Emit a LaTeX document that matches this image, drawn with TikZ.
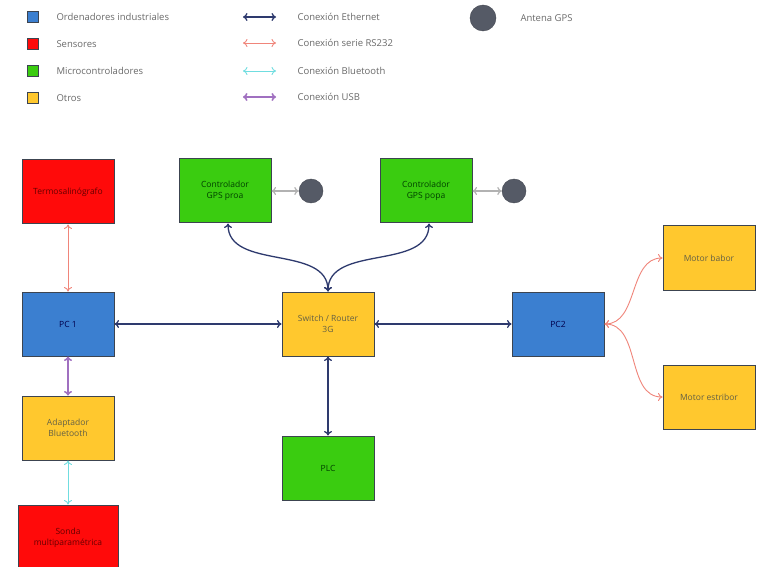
\documentclass[tikz,border=0pt]{standalone}
\usepackage{fontspec}
\setmainfont{Open Sans}
\usetikzlibrary{arrows.meta}
\definecolor{cblue}{HTML}{3B7FD0}
\definecolor{cred}{HTML}{FF0A0A}
\definecolor{cgreen}{HTML}{3ACC10}
\definecolor{cyellow}{HTML}{FFC82E}
\definecolor{cborder}{HTML}{3C4450}
\definecolor{ceth}{HTML}{2E3A6E}
\definecolor{crs}{HTML}{F0857A}
\definecolor{cbt}{HTML}{70DDE0}
\definecolor{cusb}{HTML}{A070C0}
\definecolor{cant}{HTML}{555A66}
\definecolor{cleg}{HTML}{6A6A6A}
\tikzset{
  box/.style={draw=cborder, line width=1pt, minimum width=92pt, minimum height=64pt,
    align=center, inner sep=2pt, font=\fontsize{8.5}{10.5}\selectfont, text=black!75},
  legsq/.style={draw=cborder, line width=0.8pt, minimum size=11pt, inner sep=0pt},
  legtxt/.style={anchor=west, font=\fontsize{9.5}{11}\selectfont, text=cleg},
  antenna/.style={circle, fill=cant, draw=cant!80!black, minimum size=24pt, inner sep=0pt},
  tip/.style={{To[length=4.5pt,width=8pt]}-{To[length=4.5pt,width=8pt]}},
  eth/.style={tip, draw=ceth, line width=1.3pt},
  rs/.style={tip, draw=crs, line width=0.9pt},
  bt/.style={tip, draw=cbt, line width=0.9pt},
  usb/.style={tip, draw=cusb, line width=1.6pt},
  antl/.style={tip, draw=gray!60, line width=1.2pt},
}
\begin{document}
\begin{tikzpicture}[x=1pt,y=-1pt]
\useasboundingbox (0,0) rectangle (761,567);
\fill[white] (0,0) rectangle (761,567);

% legend
\node[legsq, fill=cblue] (l1) at (33,17) {};
\node[legtxt] (t1) at (53,17) {Ordenadores industriales};
\node[legsq, fill=cred] (l2) at (33,44) {};
\node[legtxt] (t2) at (53,44) {Sensores};
\node[legsq, fill=cgreen] (l3) at (33,71) {};
\node[legtxt] (t3) at (53,71) {Microcontroladores};
\node[legsq, fill=cyellow] (l4) at (33,98) {};
\node[legtxt] (t4) at (53,98) {Otros};

\coordinate (e1a) at (243,17); \coordinate (e1b) at (276,17);
\coordinate (e2a) at (243,43); \coordinate (e2b) at (276,43);
\coordinate (e3a) at (243,71); \coordinate (e3b) at (276,71);
\coordinate (e4a) at (243,97); \coordinate (e4b) at (276,97);
\draw[eth] (e1a) -- (e1b);
\draw[rs] (e2a) -- (e2b);
\draw[bt] (e3a) -- (e3b);
\draw[usb] (e4a) -- (e4b);
\node[legtxt] (t5) at (294,17) {Conexión Ethernet};
\node[legtxt] (t6) at (294,43) {Conexión serie RS232};
\node[legtxt] (t7) at (294,71) {Conexión Bluetooth};
\node[legtxt] (t8) at (294,97) {Conexión USB};

\node[antenna, minimum size=26pt] (la) at (483,18) {};
\node[legtxt] (t9) at (517,18) {Antena GPS};

% boxes
\node[box, fill=cred, text=red!40!black] (ts) at (68,192) {Termosalinógrafo};
\node[box, fill=cblue, text=blue!30!black] (pc1) at (68,324) {PC 1};
\node[box, fill=cyellow, text=black!70!yellow] (bt) at (68,428) {Adaptador\\Bluetooth};
\node[box, fill=cred, text=red!40!black, minimum height=66pt, minimum width=100pt] (sonda) at (68,538) {Sonda\\multiparamétrica};

\node[box, fill=cgreen, text=green!25!black] (g1) at (225,191) {Controlador\\GPS proa};
\node[antenna] (a1) at (311,191) {};
\node[box, fill=cgreen, text=green!25!black] (g2) at (426,191) {Controlador\\GPS popa};
\node[antenna] (a2) at (514,191) {};

\node[box, fill=cyellow, text=black!70!yellow] (sw) at (328,324) {Switch / Router\\3G};
\node[box, fill=cgreen, text=green!25!black] (plc) at (328,468) {PLC};
\node[box, fill=cblue, text=blue!30!black] (pc2) at (558,324) {PC2};
\node[box, fill=cyellow, text=black!70!yellow] (mb) at (709,258) {Motor babor};
\node[box, fill=cyellow, text=black!70!yellow] (me) at (709,397) {Motor estribor};

% connectors
\draw[rs] (ts.south) -- (pc1.north);
\draw[usb] (pc1.south) -- (bt.north);
\draw[bt] (bt.south) -- (sonda.north);
\draw[eth] (pc1.east) -- (sw.west);
\draw[eth] (sw.east) -- (pc2.west);
\draw[eth] (sw.south) -- (plc.north);
\draw[eth] (sw.north) to[out=90,in=-90] ([xshift=3pt]g1.south);
\draw[eth] (sw.north) to[out=90,in=-90] ([xshift=3pt]g2.south);
\draw[antl] (g1.east) -- (a1.west);
\draw[antl] (g2.east) -- (a2.west);
\draw[rs] (pc2.east) to[out=0,in=180] (mb.west);
\draw[rs] (pc2.east) to[out=0,in=180] (me.west);
\end{tikzpicture}
\end{document}
